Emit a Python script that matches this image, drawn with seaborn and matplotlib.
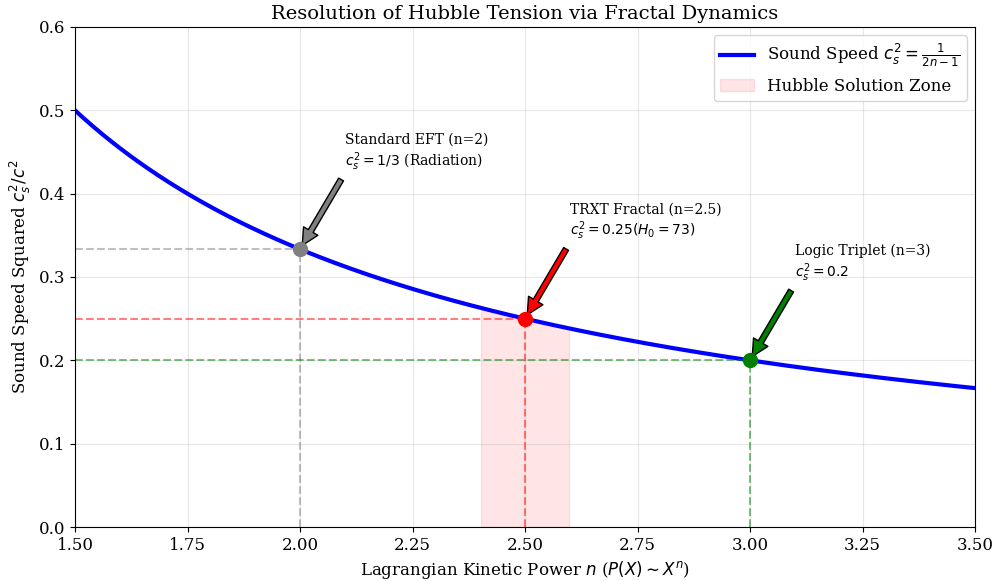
import numpy as np
import pandas as pd
import seaborn as sns
import matplotlib.pyplot as plt

plt.rcParams['font.family'] = ['DejaVu Serif']
plt.rcParams['mathtext.fontset'] = 'dejavusans'

# curve c_s^2 = 1/(2n-1), as given in the chart legend
n_vals = np.linspace(1.5, 3.5, 400)
cs2_vals = 1 / (2 * n_vals - 1)
curve = pd.DataFrame({'n': n_vals, 'cs2': cs2_vals})

# highlighted points
point_n = [2.0, 2.5, 3.0]
point_cs2 = [1 / 3, 0.25, 0.2]
point_colors = ['gray', 'red', 'green']
point_labels = [
    'Standard EFT (n=2)\n$c_s^2 = 1/3$ (Radiation)',
    'TRXT Fractal (n=2.5)\n$c_s^2 = 0.25 (H_0 = 73)$',
    'Logic Triplet (n=3)\n$c_s^2 = 0.2$',
]
zone = (2.4, 2.6)

fig, ax = plt.subplots(figsize=(9.97, 5.81), dpi=100)
fig.subplots_adjust(left=75 / 997, right=975 / 997, top=1 - 27 / 581, bottom=1 - 527 / 581)

sns.lineplot(data=curve, x='n', y='cs2', color='blue', linewidth=3,
             label=r'Sound Speed $c_s^2 = \frac{1}{2n-1}$', ax=ax)

mask = (curve['n'] >= zone[0]) & (curve['n'] <= zone[1])
ax.fill_between(curve['n'][mask], 0, curve['cs2'][mask], color='red', alpha=0.1,
                label='Hubble Solution Zone')

for x, y, c, lab in zip(point_n, point_cs2, point_colors, point_labels):
    ax.plot([1.5, x], [y, y], linestyle='--', color=c, alpha=0.5, linewidth=1.5)
    ax.plot([x, x], [0, y], linestyle='--', color=c, alpha=0.5, linewidth=1.5)
    ax.plot(x, y, 'o', color=c, markersize=10, zorder=5)
    ax.annotate(lab, xy=(x, y), xytext=(x + 0.1, y + 0.1),
                arrowprops=dict(facecolor=c, edgecolor='black', shrink=0.05),
                fontsize=10)

ax.set_xlim(1.5, 3.5)
ax.set_ylim(0, 0.6)
ax.set_title('Resolution of Hubble Tension via Fractal Dynamics', fontsize=14)
ax.set_xlabel(r'Lagrangian Kinetic Power $n$ ($P(X) \sim X^n$)', fontsize=12)
ax.set_ylabel(r'Sound Speed Squared $c_s^2/c^2$', fontsize=12)
ax.tick_params(labelsize=12)
ax.grid(True, alpha=0.3)
ax.legend(loc='upper right', fontsize=12)

plt.savefig('out.png', dpi=100)
